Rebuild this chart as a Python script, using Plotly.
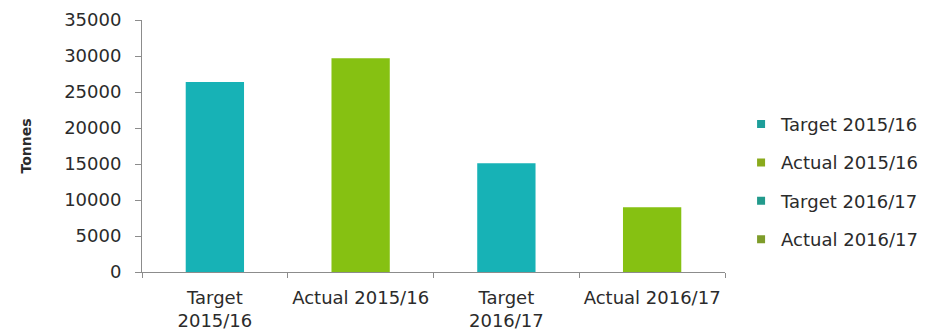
import plotly.graph_objects as go

# Recycling tonnage: targets vs actuals for two reporting years
categories = ["Target 2015/16", "Actual 2015/16", "Target 2016/17", "Actual 2016/17"]
tick_labels = ["Target<br>2015/16", "Actual 2015/16", "Target<br>2016/17", "Actual 2016/17"]
tonnes = [26400, 29700, 15100, 9000]
bar_colors = ["#17B2B6", "#86C112", "#17B2B6", "#86C112"]
legend_colors = ["#1E9E9A", "#8AAA1C", "#229A8C", "#7E9C2A"]

FONT = "DejaVu Sans"
TEXT = "#2b2b2b"
AXIS = "#8c8c8c"

fig = go.Figure()

for name, val, col in zip(categories, tonnes, bar_colors):
    fig.add_trace(go.Bar(
        x=[name], y=[val], name=name, width=0.4,
        marker=dict(color=col, line=dict(width=0)),
        showlegend=False,
    ))

# Legend entries with small square keys
for name, col in zip(categories, legend_colors):
    fig.add_trace(go.Scatter(
        x=[None], y=[None], mode="markers", name=name,
        marker=dict(symbol="square", size=8, color=col),
        legendgroup=name, showlegend=True,
    ))

fig.update_layout(
    width=931, height=335,
    margin=dict(l=142, r=206, t=20, b=63),
    paper_bgcolor="white", plot_bgcolor="white",
    barmode="overlay",
    font=dict(family=FONT, size=18, color=TEXT),
    legend=dict(
        xref="container", yref="container",
        x=0.796, y=0.684, xanchor="left", yanchor="top",
        font=dict(family=FONT, size=18, color=TEXT),
        tracegroupgap=12, itemwidth=30,
        bgcolor="rgba(0,0,0,0)",
    ),
)

fig.update_xaxes(
    type="category", categoryorder="array", categoryarray=categories,
    tickvals=categories, ticktext=tick_labels, tickangle=0, automargin=False,
    showline=True, linecolor=AXIS, linewidth=1,
    ticks="outside", tickson="boundaries", ticklen=5, tickcolor=AXIS,
    ticklabelstandoff=9,
    showgrid=False, zeroline=False,
    tickfont=dict(family=FONT, size=18, color=TEXT),
)

fig.update_yaxes(
    range=[0, 35000], dtick=5000, tickformat="d", automargin=False,
    showline=True, linecolor=AXIS, linewidth=1,
    ticks="outside", ticklen=6, tickcolor=AXIS, ticklabelstandoff=10,
    showgrid=False, zeroline=False,
    tickfont=dict(family=FONT, size=18, color=TEXT),
    title=dict(text="<b>Tonnes</b>", font=dict(family=FONT, size=14, color=TEXT), standoff=29),
)

fig.write_html("out.html")
